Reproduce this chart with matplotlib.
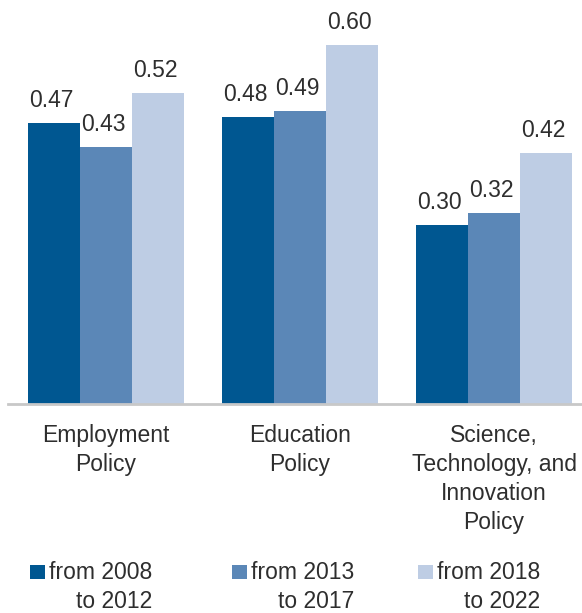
import matplotlib.pyplot as plt
import numpy as np

categories = ['Employment\nPolicy', 'Education\nPolicy',
              'Science,\nTechnology, and\nInnovation\nPolicy']
series_labels = ['from 2008\nto 2012', 'from 2013\nto 2017', 'from 2018\nto 2022']
values_2008 = [0.47, 0.48, 0.30]
values_2013 = [0.43, 0.49, 0.32]
values_2018 = [0.52, 0.60, 0.42]
colors = ['#005791', '#5B87B7', '#BECDE4']

plt.rcParams['font.family'] = ['Liberation Sans', 'DejaVu Sans']
text_color = '#2e2e2e'
fs = 16.5

W, H = 582, 613
fig = plt.figure(figsize=(W / 100, H / 100), dpi=100)
ax = fig.add_axes([8 / W, (H - 404) / H, 1 - 8 / W, 404 / H])

x = np.arange(len(categories))
width = 0.268
all_series = [values_2008, values_2013, values_2018]
for i, (vals, col) in enumerate(zip(all_series, colors)):
    pos = x + (i - 1) * width
    bars = ax.bar(pos, vals, width=width, color=col, linewidth=0)
    for b, v in zip(bars, vals):
        ax.annotate(f'{v:.2f}', (b.get_x() + b.get_width() / 2, v),
                    xytext=(-2, 11.5), textcoords='offset points',
                    ha='center', va='baseline', fontsize=fs, color=text_color)

ax.set_xlim((8 - 106) / 194, (582 - 106) / 194)
ax.set_ylim(0, 404 / 598)
for s in ['top', 'right', 'left']:
    ax.spines[s].set_visible(False)
ax.spines['bottom'].set_color('#c8c8c8')
ax.spines['bottom'].set_linewidth(2)
ax.set_yticks([])
ax.set_xticks([])

# category labels below the axis
for xi, lab in zip(x, categories):
    ax.annotate(lab, (xi, 0), xytext=(0, -14.5), textcoords='offset points',
                ha='center', va='top', fontsize=fs, color=text_color,
                linespacing=1.33)

# legend: square + right-aligned two-line text
legend_x = [30, 232, 418]
for lx, lab, col in zip(legend_x, series_labels, colors):
    fig.patches.append(plt.Rectangle((lx / W, (H - 579) / H), 15 / W, 14 / H,
                                     transform=fig.transFigure, color=col,
                                     linewidth=0))
    fig.text((lx + 19) / W, (H - 608) / H, lab, ha='left', va='baseline',
             fontsize=fs, color=text_color, multialignment='right',
             linespacing=1.33)

fig.savefig('out.png', dpi=100)
